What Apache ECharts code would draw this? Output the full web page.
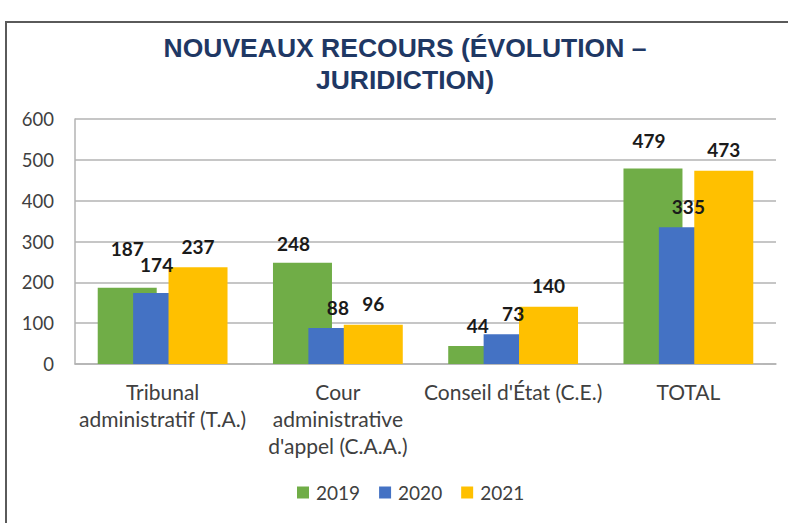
<!DOCTYPE html>
<html>
<head>
<meta charset="utf-8">
<script src="https://cdn.jsdelivr.net/npm/echarts@6/dist/echarts.min.js"></script>
<style>
  html, body { margin: 0; padding: 0; background: #ffffff; }
  #chart { width: 788px; height: 523px; }
</style>
</head>
<body>
<div id="chart"></div>
<script>
// Nouveaux recours par juridiction, 2019–2021
const categories = [
  "Tribunal\nadministratif (T.A.)",
  "Cour\nadministrative\nd'appel (C.A.A.)",
  "Conseil d'État (C.E.)",
  "TOTAL"
];
const years = ["2019", "2020", "2021"];
const values2019 = [187, 248, 44, 479];
const values2020 = [174, 88, 73, 335];
const values2021 = [237, 96, 140, 473];
const yMin = 0, yMax = 600, yStep = 100;

const seriesValues = [values2019, values2020, values2021];
const seriesColors = ["#70AD47", "#4472C4", "#FFC000"];

// hand-placed label nudges [dx, dy] for a few crowded values
const labelNudge = {
  0: { 0: [0, -18], 1: [-9, 2], 3: [-4, -7] },
  1: { 0: [-6, -7] }
};

const chart = echarts.init(document.getElementById("chart"), null, { renderer: "svg" });

const series = seriesValues.map((vals, si) => ({
  name: years[si],
  type: "bar",
  barWidth: 59,
  barGap: "-40%",
  itemStyle: { color: seriesColors[si] },
  label: {
    show: true,
    position: "top",
    distance: 11,
    fontFamily: "Lato",
    fontWeight: "bold",
    fontSize: 19,
    lineHeight: 20,
    color: "#1a1a1a"
  },
  data: vals.map((v, ci) => {
    const nudge = (labelNudge[si] || {})[ci];
    return nudge ? { value: v, label: { offset: nudge } } : { value: v };
  })
}));

chart.setOption({
  animation: false,
  backgroundColor: "#ffffff",
  grid: { left: 75, right: 12, top: 119, bottom: 159 },
  legend: {
    data: years,
    left: 292,
    top: 478,
    icon: "rect",
    itemWidth: 12,
    itemHeight: 12,
    itemGap: 19,
    textStyle: { fontFamily: "Lato", fontSize: 19, color: "#404040", padding: [0, 0, 0, 2] }
  },
  xAxis: {
    type: "category",
    data: categories,
    axisLine: { show: true, lineStyle: { color: "#b3b3b3", width: 1.5 } },
    axisTick: { show: false },
    axisLabel: {
      interval: 0,
      margin: 14,
      fontFamily: "Lato",
      fontSize: 21,
      lineHeight: 27,
      color: "#404040"
    }
  },
  yAxis: {
    type: "value",
    min: yMin,
    max: yMax,
    interval: yStep,
    axisLine: { show: true, lineStyle: { color: "#b3b3b3", width: 1.5 } },
    axisTick: { show: false },
    splitLine: { lineStyle: { color: "#b3b3b3", width: 1.5 } },
    axisLabel: { margin: 21, fontFamily: "Lato", fontSize: 18.5, color: "#404040" }
  },
  graphic: [
    {
      type: "rect",
      silent: true,
      shape: { x: 6, y: 22, width: 800, height: 520 },
      style: { fill: "none", stroke: "#5a5a5a", lineWidth: 2 }
    },
    {
      type: "text",
      silent: true,
      x: 405,
      y: 31.5,
      style: {
        text: "NOUVEAUX RECOURS (ÉVOLUTION –\nJURIDICTION)",
        fontFamily: "Liberation Sans",
        fontWeight: "bold",
        fontSize: 26.5,
        lineHeight: 32,
        fill: "#1F3864",
        textAlign: "center",
        textVerticalAlign: "top"
      }
    }
  ],
  series: series
});
</script>
</body>
</html>
